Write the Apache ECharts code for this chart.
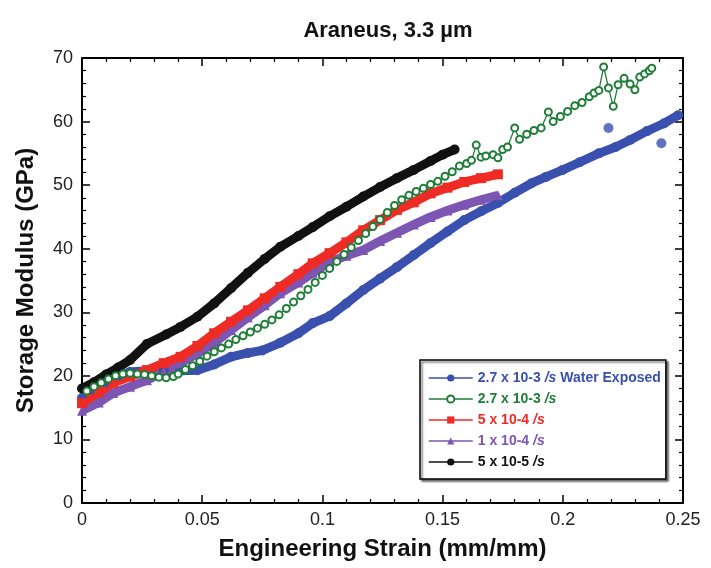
<!DOCTYPE html>
<html><head><meta charset="utf-8">
<script src="https://cdn.jsdelivr.net/npm/echarts@6/dist/echarts.min.js"></script>
<style>html,body{margin:0;padding:0;background:#fff}#c{width:711px;height:568px}</style>
</head><body><div id="c"></div>
<script>
// ---- data ----
const seriesNames = ["2.7 x 10-3 /s Water Exposed", "2.7 x 10-3 /s", "5 x 10-4 /s", "1 x 10-4 /s", "5 x 10-5 /s"];
const xTicks = [0, 0.05, 0.1, 0.15, 0.2, 0.25];
const yTicks = [0, 10, 20, 30, 40, 50, 60, 70];

const blueStrain = [0, 0.005, 0.01, 0.015, 0.02, 0.027, 0.034, 0.041, 0.048, 0.055, 0.062, 0.069, 0.075, 0.0825, 0.09, 0.096, 0.103, 0.11, 0.117, 0.124, 0.131, 0.138, 0.145, 0.152, 0.159, 0.166, 0.173, 0.18, 0.187, 0.193, 0.2, 0.207, 0.215, 0.222, 0.228, 0.235, 0.242, 0.248];
const blueMod    = [16.5, 17.8, 19, 20, 20.6, 20.8, 20.9, 20.8, 20.9, 21.8, 23, 23.6, 24, 25.2, 26.7, 28.3, 29.4, 31.4, 33.5, 35.3, 37.1, 39, 40.9, 42.7, 44.5, 45.9, 47.2, 48.8, 50.3, 51.3, 52.4, 53.6, 55, 56, 57.1, 58.5, 59.7, 61];
const blueOutStrain = [0.219, 0.241];
const blueOutMod    = [59, 56.6];

const greenStrain = [0.002, 0.005, 0.008, 0.011, 0.014, 0.017, 0.02, 0.023, 0.026, 0.029, 0.032, 0.035, 0.038, 0.04, 0.043, 0.046, 0.049, 0.052, 0.055, 0.058, 0.061, 0.064, 0.067, 0.07, 0.073, 0.076, 0.079, 0.082, 0.085, 0.088, 0.091, 0.094, 0.097, 0.1, 0.103, 0.106, 0.109, 0.112, 0.115, 0.118, 0.121, 0.124, 0.127, 0.13, 0.133, 0.136, 0.139, 0.142, 0.145, 0.148, 0.151, 0.154, 0.157, 0.16, 0.162, 0.164, 0.166, 0.168, 0.171, 0.173, 0.175, 0.177, 0.18, 0.182, 0.185, 0.188, 0.191, 0.194, 0.196, 0.199, 0.202, 0.205, 0.208, 0.211, 0.213, 0.215, 0.217, 0.219, 0.221, 0.223, 0.2255, 0.228, 0.23, 0.232, 0.234, 0.236, 0.237];
const greenMod    = [17.6, 18.3, 18.9, 19.5, 20.0, 20.3, 20.4, 20.3, 20.2, 20.0, 19.8, 19.7, 19.9, 20.3, 21.0, 21.6, 22.3, 23.1, 23.8, 24.4, 25.0, 25.7, 26.3, 26.9, 27.5, 28.1, 28.8, 29.6, 30.6, 31.6, 32.6, 33.6, 34.7, 35.8, 36.9, 38.0, 39.1, 40.2, 41.3, 42.4, 43.5, 44.6, 45.7, 46.8, 47.7, 48.4, 49.0, 49.5, 50.1, 50.6, 51.4, 52.1, 53.0, 53.4, 53.9, 56.3, 54.4, 54.6, 54.8, 54.3, 55.6, 56.0, 59.0, 57.2, 58.0, 58.6, 59.0, 61.5, 60.0, 60.8, 61.6, 62.5, 63.0, 63.9, 64.5, 64.9, 68.6, 65.3, 62.4, 65.8, 66.8, 65.9, 65.0, 67.0, 67.5, 68.0, 68.4];

const rpStrain = [0, 0.007, 0.013, 0.02, 0.027, 0.034, 0.041, 0.048, 0.055, 0.062, 0.069, 0.076, 0.0825, 0.09, 0.096, 0.103, 0.11, 0.117, 0.124, 0.131, 0.138, 0.145, 0.152, 0.159, 0.166, 0.173];
const redMod    = [15.7, 17.4, 18.9, 19.9, 20.9, 22, 23, 24.7, 26.7, 28.5, 30.3, 32.2, 34, 36, 37.7, 39.3, 41, 42.9, 44.5, 46.1, 47.3, 48.7, 49.6, 50.5, 51.1, 51.7];
const purpleMod = [14.5, 15.8, 17.3, 18.3, 19.3, 20.6, 22, 23.5, 25.2, 27.2, 29.2, 31.1, 33, 34.7, 36.2, 37.9, 38.9, 39.8, 41.2, 42.5, 43.8, 45, 46, 46.9, 47.7, 48.4];

const blackStrain = [0, 0.005, 0.01, 0.015, 0.02, 0.027, 0.035, 0.041, 0.048, 0.055, 0.062, 0.069, 0.076, 0.0825, 0.09, 0.096, 0.103, 0.11, 0.117, 0.124, 0.131, 0.138, 0.145, 0.15, 0.155];
const blackMod    = [18, 19, 20.2, 21.3, 22.5, 25, 26.5, 27.7, 29.3, 31.4, 33.8, 36.2, 38.4, 40.3, 42, 43.4, 45.1, 46.6, 48.2, 49.7, 51.1, 52.4, 53.8, 54.8, 55.6];

// ---- styling ----
const colors = ['#3a50ae', '#1f7d38', '#ee2b24', '#7d55b3', '#111111'];
const FONT = "'Liberation Sans', Arial, sans-serif";
const zip = (a, b) => a.map((v, i) => [v, b[i]]);

const chart = echarts.init(document.getElementById('c'));
const thick = (name, color, symbol, xs, ys) => ({
  name, type: 'line', data: zip(xs, ys), symbol, symbolSize: 10, showSymbol: true,
  lineStyle: { color, width: 9 }, itemStyle: { color }, animation: false, z: 2
});

const axisCommon = {
  axisLine: { show: true, onZero: false, lineStyle: { color: '#000', width: 2 } },
  axisTick: { show: true, inside: true, length: 8, lineStyle: { color: '#000', width: 1.5 } },
  minorTick: { show: true, splitNumber: 5, length: 4, lineStyle: { color: '#000', width: 1.2 } },
  splitLine: { show: false }
};

chart.setOption({
  animation: false,
  backgroundColor: '#fff',
  title: {
    text: 'Araneus, 3.3 µm', left: 383, top: 15, textAlign: 'center',
    textStyle: { fontFamily: FONT, fontSize: 22, fontWeight: 'bold', color: '#111' }
  },
  grid: { left: 82, right: 28, top: 58, bottom: 65 },
  xAxis: [
    Object.assign({ type: 'value', min: xTicks[0], max: xTicks[xTicks.length - 1], interval: 0.05, position: 'bottom',
      name: 'Engineering Strain (mm/mm)', nameLocation: 'middle', nameGap: 34,
      nameTextStyle: { fontFamily: FONT, fontSize: 24, fontWeight: 'bold', color: '#111' },
      axisLabel: { margin: 8, fontFamily: FONT, fontSize: 18, color: '#222', formatter: v => String(v) } }, axisCommon),
    Object.assign({ type: 'value', min: 0, max: 0.25, interval: 0.05, position: 'top', axisLabel: { show: false } }, axisCommon)
  ],
  yAxis: [
    Object.assign({ type: 'value', min: yTicks[0], max: yTicks[yTicks.length - 1], interval: 10, position: 'left',
      name: 'Storage Modulus (GPa)', nameLocation: 'middle', nameGap: 44,
      nameTextStyle: { fontFamily: FONT, fontSize: 24, fontWeight: 'bold', color: '#111' },
      axisLabel: { margin: 9, fontFamily: FONT, fontSize: 18, color: '#222' } }, axisCommon),
    Object.assign({ type: 'value', min: 0, max: 70, interval: 10, position: 'right', axisLabel: { show: false } }, axisCommon)
  ],
  legend: {
    orient: 'vertical', left: 420, top: 360, itemWidth: 44, itemHeight: 9, itemGap: 7,
    padding: [11, 5, 10, 8], borderColor: '#000', borderWidth: 1.5, backgroundColor: '#fff',
    shadowColor: 'rgba(0,0,0,0.55)', shadowBlur: 2, shadowOffsetX: 2, shadowOffsetY: 2,
    lineStyle: { width: 1.5 }, selectedMode: false,
    formatter: n => n.replace('/s', '{i|/s}'),
    textStyle: { fontFamily: FONT, fontSize: 14, fontWeight: 'bold',
      rich: { i: { fontStyle: 'italic', fontFamily: FONT, fontSize: 14, fontWeight: 'bold' } } },
    data: seriesNames.map((n, i) => ({ name: n, textStyle: { color: colors[i] } }))
  },
  series: [
    thick(seriesNames[0], colors[0], 'circle', blueStrain, blueMod),
    { name: seriesNames[0], type: 'scatter', data: zip(blueOutStrain, blueOutMod), symbol: 'circle', symbolSize: 10,
      itemStyle: { color: colors[0] }, z: 2 },
    thick(seriesNames[3], colors[3], 'triangle', rpStrain, purpleMod),
    thick(seriesNames[2], colors[2], 'rect', rpStrain, redMod),
    { name: seriesNames[1], type: 'line', data: zip(greenStrain, greenMod), symbol: 'emptyCircle', symbolSize: 7,
      showSymbol: true, showAllSymbol: true, lineStyle: { color: colors[1], width: 1.3 },
      itemStyle: { color: colors[1], borderColor: colors[1], borderWidth: 1.3 }, z: 3 },
    thick(seriesNames[4], colors[4], 'circle', blackStrain, blackMod)
  ]
});
</script></body></html>
